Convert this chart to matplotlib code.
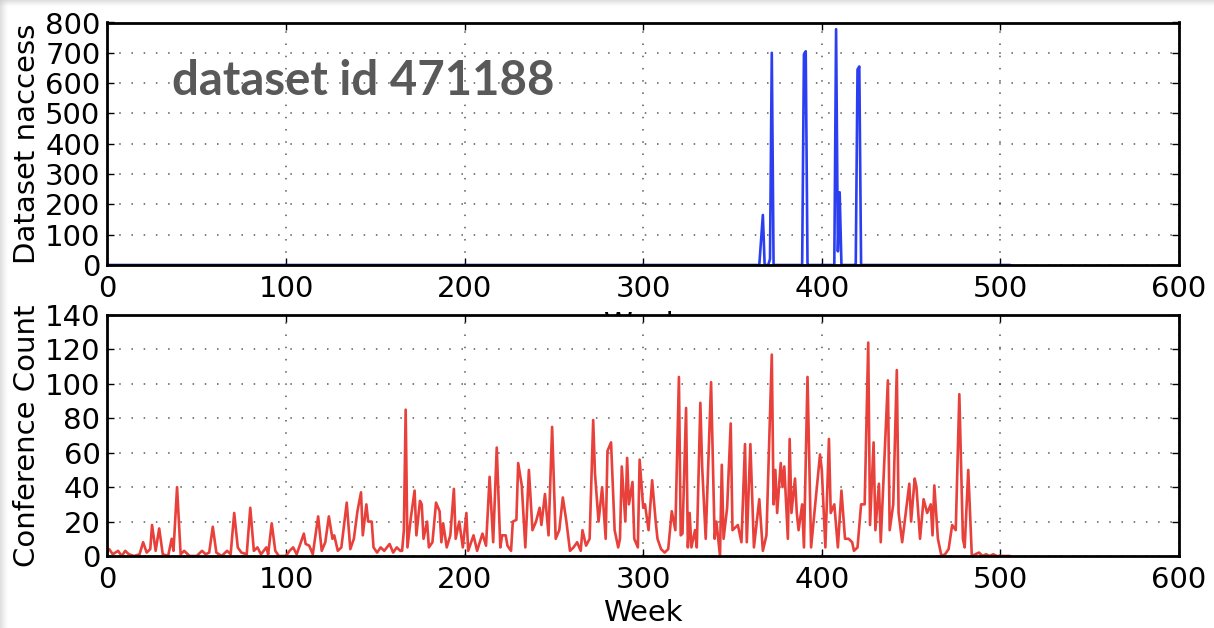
import matplotlib
matplotlib.use("Agg")
import matplotlib.pyplot as plt
from matplotlib.patches import Rectangle

# ---- data ----
access_weeks = [0, 365, 367, 368, 370, 371, 372, 373, 389, 390, 391, 392, 393,
                406, 407, 408, 409, 410, 411, 418, 419, 420, 421, 422, 505]
access_vals = [0, 0, 165, 0, 0, 20, 700, 0, 0, 695, 705, 0, 0,
               0, 0, 778, 45, 240, 0, 0, 0, 645, 655, 0, 0]

conf_weeks = [0, 1, 3, 6, 8, 10, 12, 15, 18, 20, 22, 24, 25, 27, 29, 31, 34, 36, 37, 39,
              41, 43, 46, 50, 53, 55, 57, 59, 61, 64, 67, 69, 71, 73, 75, 78, 80, 82, 84, 86,
              89, 90, 92, 94, 96, 100, 102, 104, 106, 108, 110, 111, 113, 115, 118, 120, 122,
              124, 126, 127, 129, 131, 134, 136, 138, 140, 142, 143, 145, 146, 148, 149, 151,
              153, 155, 158, 160, 162, 164, 165, 166, 167, 168, 170, 172, 173, 175, 176, 177,
              179, 180, 182, 184, 186, 187, 188, 190, 192, 194, 195, 197, 199, 201, 202, 205,
              207, 210, 212, 214, 216, 218, 220, 221, 223, 224, 226, 227, 229, 230, 232, 234,
              236, 238, 240, 242, 243, 245, 247, 249, 251, 253, 255, 257, 259, 261, 263, 265,
              266, 268, 270, 272, 273, 275, 277, 279, 280, 282, 284, 286, 287, 288, 290, 291,
              292, 294, 295, 297, 298, 300, 301, 303, 305, 307, 308, 310, 312, 314, 316, 318,
              320, 321, 322, 324, 325, 326, 327, 329, 330, 332, 333, 335, 338, 340, 341, 343,
              344, 345, 347, 349, 350, 353, 355, 357, 358, 360, 362, 365, 367, 369, 372, 373,
              374, 375, 377, 378, 379, 381, 382, 383, 385, 386, 387, 389, 390, 392, 394, 399,
              400, 402, 404, 405, 407, 409, 411, 413, 415, 417, 418, 420, 422, 424, 426, 427,
              429, 430, 432, 433, 435, 437, 438, 440, 442, 443, 445, 447, 449, 450, 452, 453,
              455, 457, 459, 461, 462, 463, 465, 467, 469, 471, 473, 475, 477, 479, 480, 482,
              484, 486, 488, 490, 492, 494, 496, 498, 500, 505]
conf_vals = [3, 4, 1, 3, 0, 3, 1, 0, 1, 8, 2, 4, 18, 3, 16, 1, 0, 10, 3, 40,
             1, 3, 0, 0, 3, 1, 2, 17, 2, 0, 3, 1, 25, 5, 2, 1, 28, 3, 5, 1,
             5, 1, 19, 3, 0, 0, 3, 5, 1, 7, 13, 7, 6, 1, 23, 3, 8,
             23, 10, 12, 3, 5, 31, 4, 10, 26, 37, 12, 30, 20, 20, 5, 2,
             5, 3, 7, 2, 5, 3, 3, 15, 85, 5, 23, 38, 12, 32, 30, 10,
             20, 5, 8, 31, 26, 8, 19, 5, 12, 39, 10, 20, 5, 25, 3, 12,
             3, 13, 6, 46, 8, 63, 5, 12, 12, 6, 3, 20, 21, 54, 41, 5,
             50, 15, 20, 28, 18, 36, 12, 75, 10, 15, 34, 20, 3, 5, 8, 3,
             15, 6, 10, 79, 48, 20, 40, 10, 61, 66, 15, 5, 10, 52, 20, 57,
             30, 43, 10, 5, 56, 28, 30, 15, 44, 20, 10, 4, 2, 4, 26, 15,
             104, 12, 13, 86, 5, 25, 5, 15, 5, 89, 52, 10, 101, 10, 20, 0,
             53, 10, 28, 77, 15, 18, 8, 65, 8, 65, 5, 33, 3, 12, 117, 30,
             50, 25, 54, 40, 52, 10, 68, 25, 45, 25, 15, 30, 5, 104, 5, 59,
             50, 5, 68, 25, 30, 5, 38, 10, 10, 8, 3, 5, 30, 30, 124, 18,
             66, 15, 42, 8, 55, 102, 15, 30, 108, 25, 8, 25, 42, 20, 45, 40,
             10, 33, 25, 30, 12, 41, 10, 0, 1, 4, 18, 15, 94, 10, 5, 50,
             0, 1, 2, 0, 1, 0, 1, 0, 0, 0]

x_ticks = [0, 100, 200, 300, 400, 500, 600]
top_yticks = [0, 100, 200, 300, 400, 500, 600, 700, 800]
bot_yticks = [0, 20, 40, 60, 80, 100, 120, 140]

FS = 21
plt.rcParams["font.family"] = ["DejaVu Sans"]

fig = plt.figure(figsize=(12.14, 6.28), dpi=100)
fig.patch.set_facecolor("white")

# slide frame shading (top and left)
for i, a in enumerate([0.55, 0.45, 0.35, 0.25, 0.15, 0.08]):
    fig.patches.append(Rectangle((0, 1 - (i + 1) / 628), 1, 1 / 628, transform=fig.transFigure,
                                 facecolor="#c8c8c8", alpha=a, edgecolor="none", zorder=0))
for i, a in enumerate([0.55, 0.5, 0.4, 0.3, 0.22, 0.15, 0.08, 0.04]):
    fig.patches.append(Rectangle((i / 1214, 0), 1 / 1214, 1, transform=fig.transFigure,
                                 facecolor="#c8c8c8", alpha=a, edgecolor="none", zorder=0))

left, width = 107.4 / 1214, 1071.6 / 1214
ax1 = fig.add_axes([left, 1 - 265 / 628, width, 242.5 / 628])
ax2 = fig.add_axes([left, 1 - 556 / 628, width, 241 / 628])
ax2.set_zorder(5)
ax2.set_facecolor("white")

ax1.plot(access_weeks, access_vals, color="#2b3ff0", lw=1.9, zorder=2)
ax2.plot(conf_weeks, conf_vals, color="#e8403a", lw=1.9, zorder=2)

for ax, yt in ((ax1, top_yticks), (ax2, bot_yticks)):
    ax.set_xlim(0, 600)
    ax.set_ylim(yt[0], yt[-1])
    ax.set_xticks(x_ticks)
    ax.set_yticks(yt)
    ax.tick_params(direction="in", length=5, width=1, labelsize=FS, top=True, right=True)
    ax.tick_params(axis="x", pad=7)
    ax.tick_params(axis="y", pad=5)
    ax.grid(True, color="black", linestyle=(0, (1, 7)), linewidth=1.1, alpha=0.65)
    for s in ax.spines.values():
        s.set_linewidth(2.0)
        s.set_zorder(3)

ax1.set_ylabel("Dataset naccess", fontsize=FS, labelpad=3)
ax1.set_xlabel("Week", fontsize=FS, labelpad=6)
ax2.set_ylabel("Conference Count", fontsize=FS, labelpad=3)
ax2.set_xlabel("Week", fontsize=FS, labelpad=4)

ax1.text(36, 561, "dataset id 471188", fontsize=34, fontweight="bold",
         color="#595959", family=["Lato", "DejaVu Sans"], ha="left", va="baseline", zorder=4)

fig.savefig("out.png", dpi=100, facecolor=fig.get_facecolor())
